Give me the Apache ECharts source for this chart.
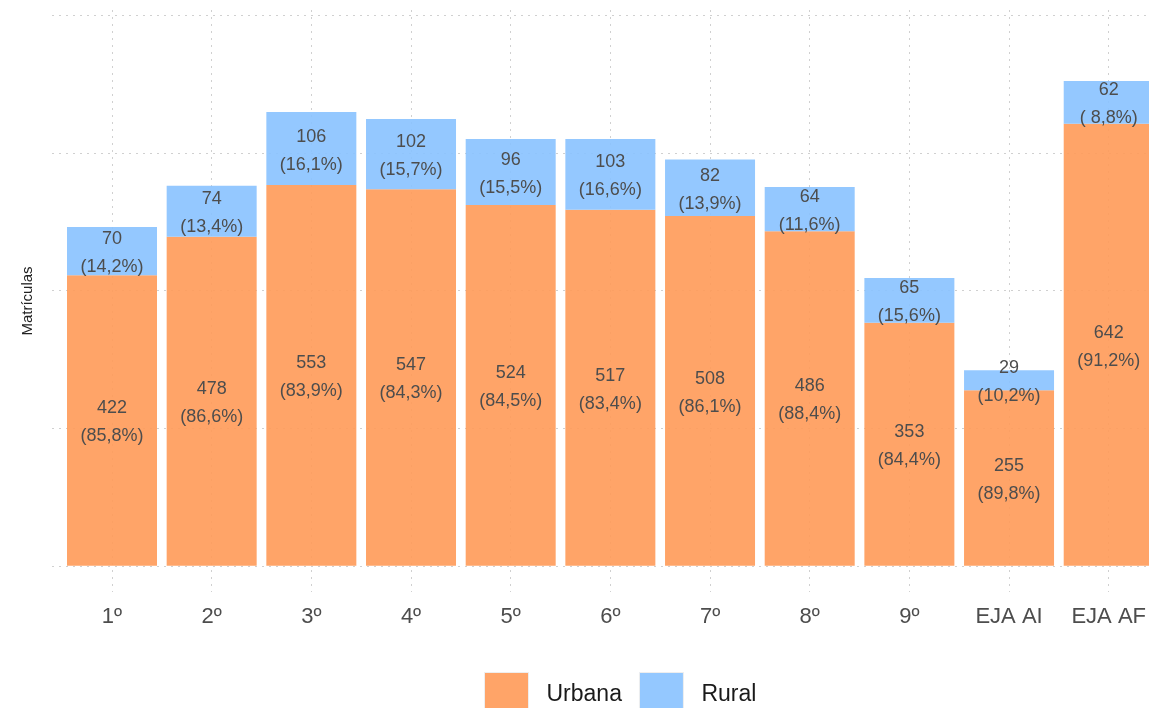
<!DOCTYPE html>
<html>
<head>
<meta charset="utf-8">
<script src="https://cdn.jsdelivr.net/npm/echarts@6/dist/echarts.min.js"></script>
<style>
html,body{margin:0;padding:0;background:#fff;}
#chart{width:1149px;height:708px;}
</style>
</head>
<body>
<div id="chart"></div>
<script>
const categories = ['1º','2º','3º','4º','5º','6º','7º','8º','9º','EJA AI','EJA AF'];
const urbana = [422, 478, 553, 547, 524, 517, 508, 486, 353, 255, 642];
const rural = [70, 74, 106, 102, 96, 103, 82, 64, 65, 29, 62];
const urbanaPct = [85.8, 86.6, 83.9, 84.3, 84.5, 83.4, 86.1, 88.4, 84.4, 89.8, 91.2];
const ruralPct = [14.2, 13.4, 16.1, 15.7, 15.5, 16.6, 13.9, 11.6, 15.6, 10.2, 8.8];
const gridTicks = [0, 200, 400, 600, 800];

function fmtPct(p){
  let s = p.toFixed(1).replace('.', ',');
  while (s.length < 4) s = ' ' + s;
  return '(' + s + '%)';
}

const font = 'Liberation Sans, Arial, Helvetica, sans-serif';
const gridLine = {show:true, lineStyle:{color:'#d0d0d0', width:1, type:[2,5]}};
const labelStyle = {show:true, position:'inside', color:'#4d4d4d', fontSize:18, lineHeight:28, fontFamily:font, offset:[0,2]};

const chart = echarts.init(document.getElementById('chart'), null, {renderer:'canvas'});
chart.setOption({
  animation:false,
  backgroundColor:'#ffffff',
  grid:[
    {left:52, top:15, width:1120, height:551},
    {left:112, top:10, width:1003, height:582}
  ],
  xAxis:[
    {gridIndex:0, type:'value', min:0, max:1, show:false},
    {gridIndex:1, type:'category', data:categories, boundaryGap:false,
     axisLine:{show:false}, axisTick:{show:false},
     splitLine:Object.assign({interval:0}, gridLine),
     axisLabel:{interval:0, color:'#4d4d4d', fontSize:22, margin:14, fontFamily:font}}
  ],
  yAxis:[
    {gridIndex:0, type:'value', min:gridTicks[0], max:gridTicks[gridTicks.length-1], interval:gridTicks[1]-gridTicks[0],
     axisLine:{show:false}, axisTick:{show:false}, axisLabel:{show:false}, splitLine:gridLine},
    {gridIndex:1, type:'value', min:-38.3, max:807.3,
     axisLine:{show:false}, axisTick:{show:false}, axisLabel:{show:false}, splitLine:{show:false},
     name:'Matrículas', nameLocation:'middle', nameGap:77,
     nameTextStyle:{color:'#222', fontSize:15, fontFamily:font}}
  ],
  legend:{
    left:484, top:672, padding:0, itemWidth:44, itemHeight:44, itemGap:17,
    icon:'rect',
    itemStyle:{borderColor:'#eeeeee', borderWidth:1},
    textStyle:{color:'#1a1a1a', fontSize:23, fontFamily:font, padding:[0,0,0,13]},
    data:['Urbana','Rural']
  },
  series:[
    {name:'Urbana', type:'bar', stack:'total', xAxisIndex:1, yAxisIndex:1, barWidth:90, clip:false,
     data:urbana, itemStyle:{color:'rgba(255,154,88,0.9)'},
     label:Object.assign({formatter:p => urbana[p.dataIndex] + '\n' + fmtPct(urbanaPct[p.dataIndex])}, labelStyle)},
    {name:'Rural', type:'bar', stack:'total', xAxisIndex:1, yAxisIndex:1, barWidth:90, clip:false,
     data:rural, itemStyle:{color:'rgba(136,194,255,0.9)'},
     label:Object.assign({formatter:p => rural[p.dataIndex] + '\n' + fmtPct(ruralPct[p.dataIndex])}, labelStyle)}
  ]
});
</script>
</body>
</html>
